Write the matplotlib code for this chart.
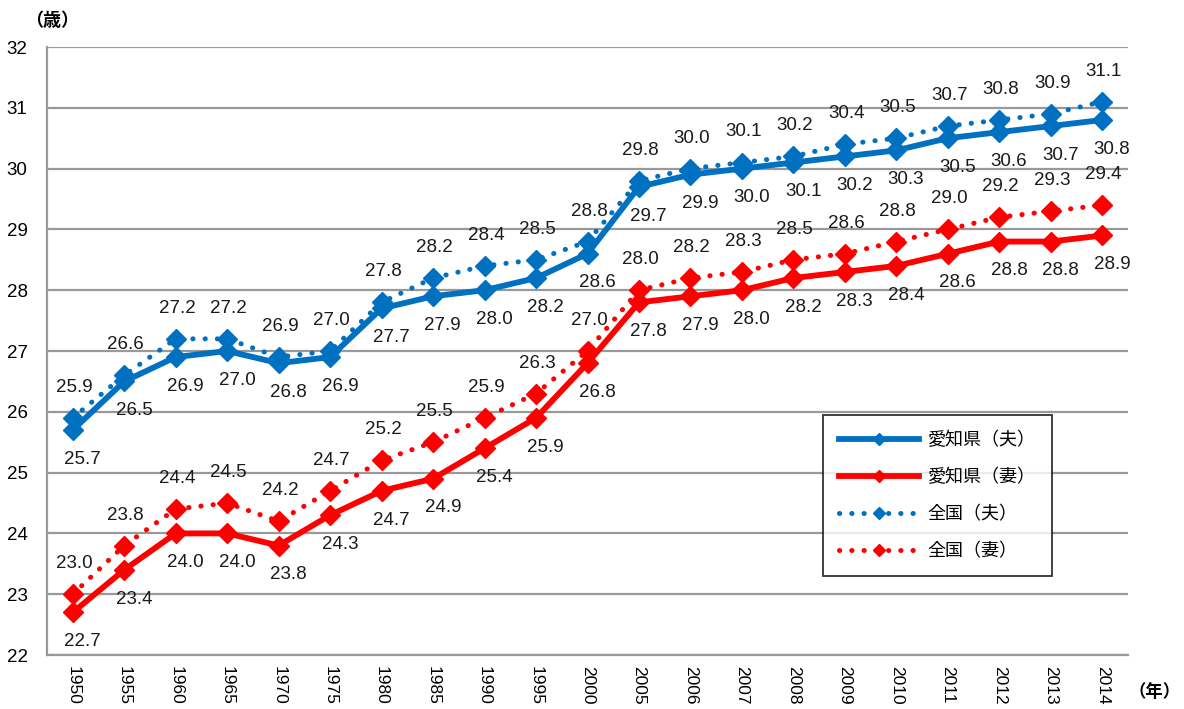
import matplotlib
matplotlib.use("Agg")
import matplotlib.pyplot as plt
from matplotlib.lines import Line2D

plt.rcParams['font.family'] = ['Noto Sans CJK JP', 'DejaVu Sans']

years = ['1950', '1955', '1960', '1965', '1970', '1975', '1980', '1985', '1990', '1995',
         '2000', '2005', '2006', '2007', '2008', '2009', '2010', '2011', '2012', '2013', '2014']
aichi_husband = [25.7, 26.5, 26.9, 27.0, 26.8, 26.9, 27.7, 27.9, 28.0, 28.2, 28.6,
                 29.7, 29.9, 30.0, 30.1, 30.2, 30.3, 30.5, 30.6, 30.7, 30.8]
aichi_wife = [22.7, 23.4, 24.0, 24.0, 23.8, 24.3, 24.7, 24.9, 25.4, 25.9, 26.8,
              27.8, 27.9, 28.0, 28.2, 28.3, 28.4, 28.6, 28.8, 28.8, 28.9]
national_husband = [25.9, 26.6, 27.2, 27.2, 26.9, 27.0, 27.8, 28.2, 28.4, 28.5, 28.8,
                    29.8, 30.0, 30.1, 30.2, 30.4, 30.5, 30.7, 30.8, 30.9, 31.1]
national_wife = [23.0, 23.8, 24.4, 24.5, 24.2, 24.7, 25.2, 25.5, 25.9, 26.3, 27.0,
                 28.0, 28.2, 28.3, 28.5, 28.6, 28.8, 29.0, 29.2, 29.3, 29.4]
series_names = ['愛知県（夫）', '愛知県（妻）', '全国（夫）', '全国（妻）']
yticks = [22, 23, 24, 25, 26, 27, 28, 29, 30, 31, 32]

BLUE = '#0070C0'
RED = '#FF0000'

fig = plt.figure(figsize=(11.84, 7.09), dpi=100)
ax = fig.add_axes([47/1184, 1 - 655/709, (1128-47)/1184, (655-47)/709])

x = list(range(len(years)))
dot = (0, (0.05, 2.4))

ax.plot(x, national_husband, color=BLUE, lw=3.6, linestyle=dot, dash_capstyle='round',
        marker='D', markersize=10.5, zorder=3)
ax.plot(x, national_wife, color=RED, lw=3.6, linestyle=dot, dash_capstyle='round',
        marker='D', markersize=10.5, zorder=3)
ax.plot(x, aichi_husband, color=BLUE, lw=4.2, marker='D', markersize=10.5, zorder=4)
ax.plot(x, aichi_wife, color=RED, lw=4.2, marker='D', markersize=10.5, zorder=4)

fs = 13.5
for series, off in [(aichi_husband, (7, -21)), (aichi_wife, (7, -21)),
                    (national_husband, (1, 22)), (national_wife, (1, 22))]:
    for xi, v in zip(x, series):
        ax.annotate(f'{v:.1f}', (xi, v), xytext=off, textcoords='offset points',
                    ha='center', va='center', fontsize=fs, color='#1a1a1a',
                    family='Liberation Sans')

ax.set_xlim(-0.5, len(years) - 0.5)
ax.set_ylim(22, 32)
ax.set_yticks(yticks)
ax.set_yticklabels([str(t) for t in yticks], fontsize=13.5, family='Liberation Sans')
ax.set_xticks(x)
ax.set_xticklabels(years, rotation=270, fontsize=12.5, family='Liberation Sans', va='top')
ax.tick_params(axis='both', length=0)
ax.tick_params(axis='y', pad=14)
ax.tick_params(axis='x', pad=8)
ax.grid(axis='y', color='#999999', lw=1.6)
ax.set_axisbelow(True)
for s in ['top', 'right']:
    ax.spines[s].set_visible(False)
for s in ['left', 'bottom']:
    ax.spines[s].set_color('#999999')
    ax.spines[s].set_linewidth(1.6)

handles = [
    Line2D([], [], color=BLUE, lw=4.2, marker='D', markersize=6),
    Line2D([], [], color=RED, lw=4.2, marker='D', markersize=6),
    Line2D([], [], color=BLUE, lw=3.6, linestyle=dot, dash_capstyle='round', marker='D', markersize=6),
    Line2D([], [], color=RED, lw=3.6, linestyle=dot, dash_capstyle='round', marker='D', markersize=6),
]
leg = ax.legend(handles, series_names, loc='upper left',
                bbox_to_anchor=((823-47)/1081, 1 - (415-47)/608),
                fontsize=13, frameon=True, fancybox=False, edgecolor='black',
                handlelength=4.4, labelspacing=1.05, borderpad=0.9, handletextpad=0.5,
                borderaxespad=0)
leg.get_frame().set_linewidth(1.3)

fig.text(52/1184, 1 - 20/709, '（歳）', fontsize=13, fontweight='bold', ha='center', va='center')
fig.text(1155/1184, 1 - 692/709, '（年）', fontsize=12.5, fontweight='bold', ha='center', va='center')

fig.savefig('out.png', dpi=100)
